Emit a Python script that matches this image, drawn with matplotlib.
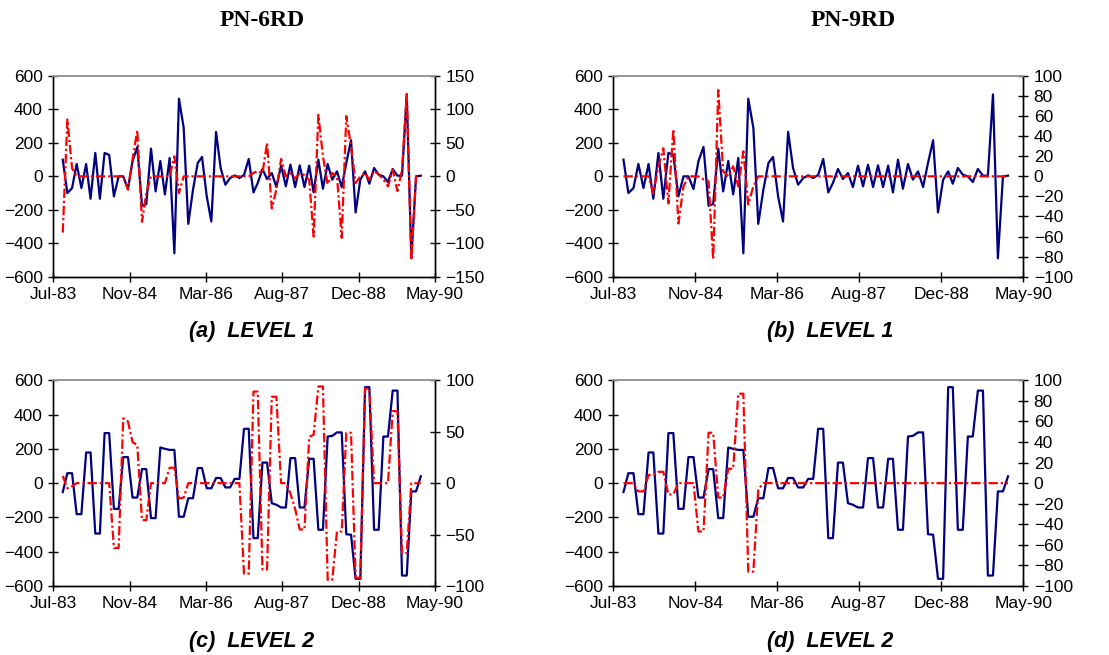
import numpy as np
import pandas as pd
import matplotlib
matplotlib.use("Agg")
import matplotlib.pyplot as plt
import matplotlib.dates as mdates

# monthly points, Sep-83 .. Feb-90
months = pd.date_range("1983-09-01", periods=78, freq="MS")

# blue (left axis) detail series, same in both stations
level1 = [100, -100, -70, 74, -70, 74, -134, 140, -134, 140,
          128, -120, 0, 0, -76, 90, 176, -176, -166, 166,
          -90, 92, -108, 110, -460, 464, 290, -284, -80, 80,
          116, -120, -270, 266, 50, -50, -10, 6, -10, 8,
          104, -96, -40, 44, -16, 20, -64, 64, -60, 70,
          -64, 66, -64, 64, -96, 100, -74, 74, -20, 30,
          -64, 80, 216, -216, -20, 30, -44, 50, 10, 0,
          -34, 44, 4, 4, 490, -490, 0, 4]

level2 = [-52, 58, 58, -181, -181, 179, 179, -294, -294, 292,
          292, -150, -150, 152, 152, -84, -84, 82, 82, -204,
          -204, 208, 200, 194, 194, -196, -196, -88, -88, 88,
          88, -30, -30, 30, 30, -25, -25, 25, 25, 317,
          317, -321, -321, 120, 120, -117, -126, -142, -142, 146,
          146, -142, -142, 142, 142, -272, -272, 272, 276, 296,
          296, -298, -301, -558, -558, 560, 560, -272, -272, 272,
          272, 540, 540, -539, -539, -48, -48, 40]

# red (right axis) series
red_a = [-84, 85, 12, 0, 0, 0, 0, 0, 0, 0,
         0, 0, 0, 0, -20, 25, 69, -68, -25, 0,
         0, 0, 0, 0, 30, -25, 0, 0, 0, 0,
         0, 0, 0, 0, 0, 0, 0, 0, 0, 0,
         0, 5, 8, 5, 50, -48, -20, 26, 0, 5,
         -3, 4, 2, -5, -90, 92, 30, -12, 5, 0,
         -92, 90, 45, -10, 0, 5, -5, 8, 3, -5,
         -15, 10, -22, 10, 123, -125, 0, 0]

red_b = [0, 0, 0, 0, 0, 0, -17, 10, 28, -27,
         47, -47, -10, 0, 0, 0, -3, -5, -83, 86,
         5, 0, 10, -10, 25, -28, -10, 0, 0, 0] + [0] * 48

red_c = [7, -5, -3, 0, 0, 0, 0, 0, 0, 0,
         0, -63, -63, 63, 60, 40, 37, -36, -36, 0,
         0, 0, 0, 15, 15, -15, -14, 0, 0, 0,
         0, 0, 0, 0, 0, 0, 0, 0, 0, -88,
         -88, 89, 89, -84, -84, 84, 84, 0, 0, -10,
         -25, -45, -45, 45, 47, 94, 94, -94, -94, -47,
         -47, 49, 49, -92, -92, 92, 92, 0, 0, 0,
         0, 70, 70, -68, -68, 0, 0, 0]

red_d = [0, 0, 0, -8, -8, 8, 8, 11, 11, -11,
         -11, 0, 0, 0, 0, -47, -47, 49, 49, -14,
         -14, 14, 14, 87, 87, -86, -86, -6, 0, 0] + [0] * 48

tick_labels = ["Jul-83", "Nov-84", "Mar-86", "Aug-87", "Dec-88", "May-90"]
left_ticks = [-600, -400, -200, 0, 200, 400, 600]

W, H = 1109, 655
fig = plt.figure(figsize=(W / 100, H / 100), dpi=100)
plt.rcParams["font.family"] = ["Liberation Sans", "DejaVu Sans"]

start = pd.Timestamp("1983-07-01")
xt = [mdates.date2num(start + pd.Timedelta(days=500 * k)) for k in range(6)]


def panel(px_l, px_r, px_t, px_b, red, rmax, rstep, blue):
    ax = fig.add_axes([px_l / W, 1 - px_b / H, (px_r - px_l) / W, (px_b - px_t) / H])
    ax.plot(months, blue, color="#000080", lw=1.6, zorder=3)
    ax.set_xlim(xt[0], xt[-1])
    ax.set_ylim(-600, 600)
    ax.set_yticks(left_ticks)
    ax.set_xticks(xt)
    ax.set_xticklabels(tick_labels)
    ax2 = ax.twinx()
    ax2.plot(months, red, color="#ff0000", lw=1.6, dashes=(4.2, 1.3, 1.0, 1.3), zorder=4)
    ax2.set_ylim(-rmax, rmax)
    ax2.set_yticks(np.arange(-rmax, rmax + 1, rstep))
    for a in (ax, ax2):
        a.tick_params(direction="inout", length=7, width=1, labelsize=12.5, pad=4)
        for s in ("left", "right", "bottom"):
            a.spines[s].set_color("black")
            a.spines[s].set_linewidth(1.0)
        a.spines["top"].set_color("#999999")
        a.spines["top"].set_linewidth(1.3)
    return ax


panel(53.3, 435, 76, 276.7, red_a, 150, 50, level1)
panel(613.3, 1023.3, 76, 276.7, red_b, 100, 20, level1)
panel(53.3, 435, 380.3, 586, red_c, 100, 50, level2)
panel(613.3, 1023.3, 380.3, 586, red_d, 100, 20, level2)

fig.text(262 / W, 1 - 20 / H, "PN-6RD", ha="center", va="center",
         family="Liberation Serif", weight="bold", fontsize=17)
fig.text(853 / W, 1 - 20 / H, "PN-9RD", ha="center", va="center",
         family="Liberation Serif", weight="bold", fontsize=17)

caps = [("(a)  LEVEL 1", 252, 331), ("(b)  LEVEL 1", 830, 331),
        ("(c)  LEVEL 2", 252, 641), ("(d)  LEVEL 2", 830, 641)]
for txt, cx, cy in caps:
    fig.text(cx / W, 1 - cy / H, txt, ha="center", va="center",
             weight="bold", style="italic", fontsize=15.5)

fig.savefig("out.png", dpi=100)
